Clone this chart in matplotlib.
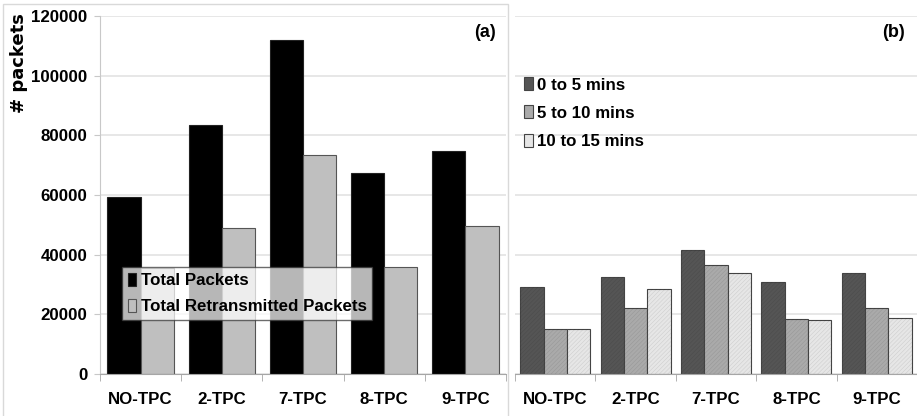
import matplotlib.pyplot as plt
import numpy as np
from matplotlib.patches import Rectangle

plt.rcParams['font.family'] = ['Liberation Sans', 'DejaVu Sans']
plt.rcParams['font.weight'] = 'bold'
plt.rcParams['hatch.linewidth'] = 0.4

# data
categories = ['NO-TPC', '2-TPC', '7-TPC', '8-TPC', '9-TPC']
total_packets = [59300, 83500, 112000, 67300, 74900]
retrans_packets = [35500, 48800, 73300, 36000, 49600]
interval_labels = ['0 to 5 mins', '5 to 10 mins', '10 to 15 mins']
interval_0_5 = [29200, 32500, 41600, 30800, 34000]
interval_5_10 = [15100, 22100, 36400, 18300, 22000]
interval_10_15 = [15100, 28600, 33700, 18100, 18700]

GRID = '#e3e3e3'
SPINE = '#a6a6a6'
FS = 12.2

fig = plt.figure(figsize=(9.17, 4.16), dpi=100)
ax1 = fig.add_axes([100 / 917, 1 - 374 / 416, 406 / 917, 358 / 416])
ax2 = fig.add_axes([515 / 917, 1 - 374 / 416, 402 / 917, 358 / 416])

# light frame round panel (a)
fig.patches.append(Rectangle((3 / 917, -0.01), 505 / 917, 1 - 4 / 416 + 0.01,
                             transform=fig.transFigure, fill=False,
                             edgecolor='#d9d9d9', linewidth=1.0))

x = np.arange(len(categories))


def style_axis(ax, show_y):
    ax.set_xlim(-0.5, len(categories) - 0.5)
    ax.set_ylim(0, 120000)
    ax.set_yticks(np.arange(0, 120001, 20000))
    ax.yaxis.grid(True, color=GRID, linewidth=1.2)
    ax.set_axisbelow(True)
    for s in ['top', 'right']:
        ax.spines[s].set_visible(False)
    ax.spines['bottom'].set_color(SPINE)
    ax.spines['left'].set_color('#c8c8c8')
    ax.set_xticks(x)
    ax.set_xticklabels(categories, fontsize=FS, fontweight='bold')
    ax.set_xticks(np.arange(-0.5, len(categories)), minor=True)
    ax.tick_params(axis='x', which='major', length=0, pad=13)
    ax.tick_params(axis='x', which='minor', length=5, color=SPINE)
    if show_y:
        ax.set_yticklabels([f'{v}' for v in range(0, 120001, 20000)],
                           fontsize=FS, fontweight='bold')
        ax.tick_params(axis='y', length=4, color='#c8c8c8', pad=5)
    else:
        ax.spines['left'].set_visible(False)
        ax.tick_params(axis='y', length=0, labelleft=False)


# (a) total vs retransmitted
w = 0.41
ax1.bar(x - w / 2, total_packets, w, color='black', edgecolor='#222222',
        linewidth=0.8, label='Total Packets')
ax1.bar(x + w / 2, retrans_packets, w, color='#bfbfbf', edgecolor='#555555',
        linewidth=0.8, label='Total Retransmitted Packets')
style_axis(ax1, True)
leg1 = ax1.legend(loc='lower left', bbox_to_anchor=(0.054, 0.151), fontsize=FS,
                  handlelength=0.5, handleheight=0.8, handletextpad=0.25,
                  borderpad=0.35, labelspacing=0.6, fancybox=False,
                  framealpha=0.72, edgecolor='#333333', borderaxespad=0)
leg1.get_frame().set_linewidth(1.0)
ax1.text(0.975, 0.955, '(a)', transform=ax1.transAxes, ha='right', va='center',
         fontsize=13, fontweight='bold')

# (b) split by time interval
w2 = 0.29
series = [interval_0_5, interval_5_10, interval_10_15]
fills = ['#555555', '#aaaaaa', '#e6e6e6']
for i, (vals, fc, lab) in enumerate(zip(series, fills, interval_labels)):
    pos = x + (i - 1) * w2
    ax2.bar(pos, vals, w2, color=fc, edgecolor='#444444', linewidth=0.8, label=lab)
    # fine texture on the fills
    ax2.bar(pos, vals, w2, color='none', edgecolor=(0, 0, 0, 0.1),
            linewidth=0, hatch='////////')
style_axis(ax2, False)
ax2.legend(loc='upper left', bbox_to_anchor=(0.015, 0.838), fontsize=FS,
           handlelength=0.5, handleheight=0.8, handletextpad=0.25,
           borderpad=0.2, labelspacing=0.75, frameon=False, borderaxespad=0)
ax2.text(0.97, 0.955, '(b)', transform=ax2.transAxes, ha='right', va='center',
         fontsize=13, fontweight='bold')

fig.text(19 / 917, 1 - 63 / 416, '# packets', rotation=90, ha='center',
         va='center', fontsize=13, fontweight='bold', family='DejaVu Sans')

fig.savefig('out.png', dpi=100, facecolor='white')
